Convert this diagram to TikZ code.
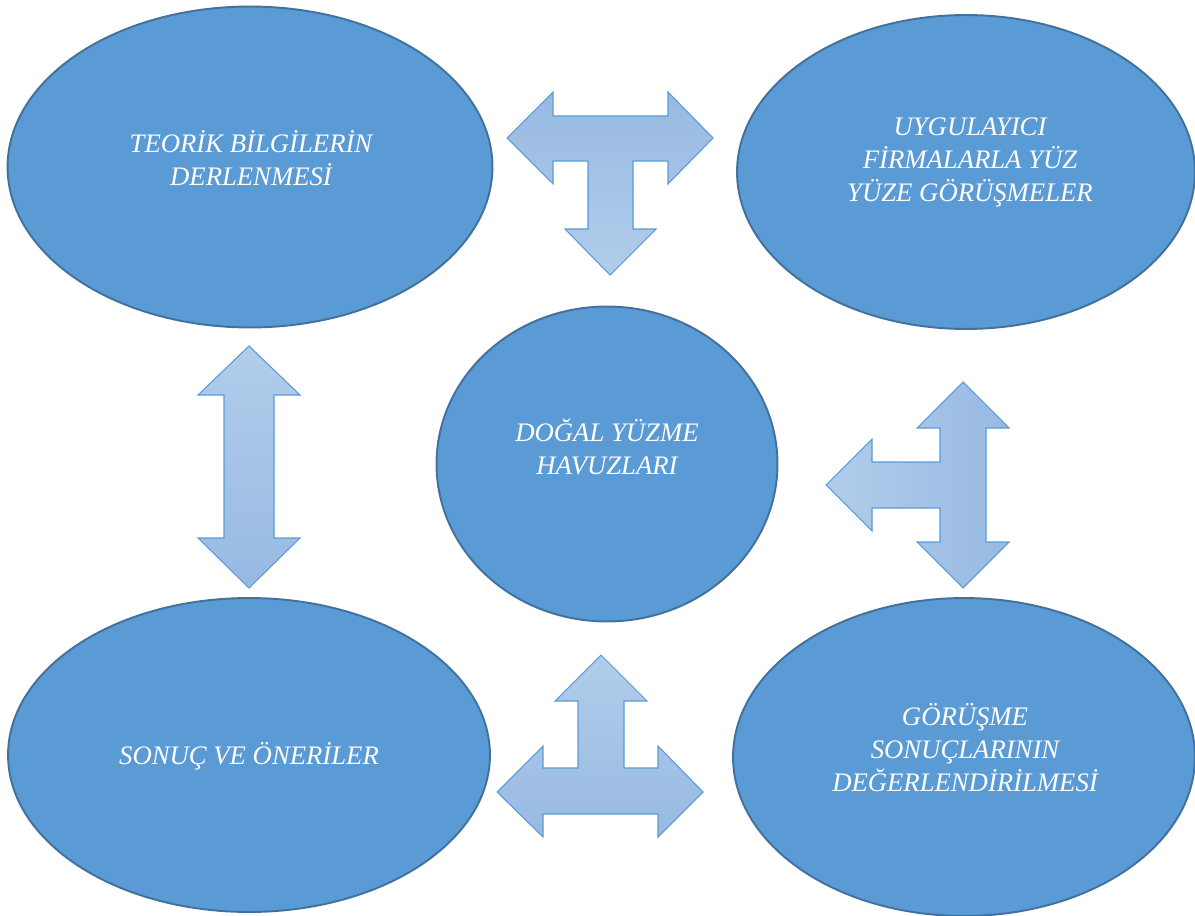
\documentclass[tikz,border=0pt]{standalone}
\usepackage{fontspec}
\setmainfont{Liberation Serif}
\usetikzlibrary{shapes.geometric}
\definecolor{bubblefill}{HTML}{5B9BD5}
\definecolor{bubbleline}{HTML}{41719C}
\definecolor{arrowlight}{HTML}{B2CDEB}
\definecolor{arrowdark}{HTML}{97B9E2}
\definecolor{arrowline}{HTML}{5B9BD5}
\tikzset{
  bubble/.style={ellipse, draw=bubbleline, line width=1.1pt, fill=bubblefill, inner sep=0pt},
  bubbletext/.style={text=white, align=center, font=\fontsize{15.2}{18.8}\selectfont\itshape},
  blockarrow/.style={draw=arrowline, line width=0.6pt, line join=miter}
}
\begin{document}
\begin{tikzpicture}[x=0.02cm,y=-0.02cm]
\useasboundingbox (0,0) rectangle (1195,915);

\node[bubble, minimum width=9.70cm, minimum height=6.42cm] (teorik) at (250,167) {};
\node[bubble, minimum width=9.16cm, minimum height=6.28cm] (uygulayici) at (966,172) {};
\node[bubble, minimum width=6.82cm, minimum height=6.30cm] (havuz) at (607,464) {};
\node[bubble, minimum width=9.64cm, minimum height=6.28cm] (sonuc) at (249,755) {};
\node[bubble, minimum width=9.24cm, minimum height=6.36cm] (gorusme) at (964,757) {};

\node[bubbletext] (teorik text) at (251,158) {TEORİK BİLGİLERİN\\DERLENMESİ};
\node[bubbletext] (uygulayici text) at (970,162) {UYGULAYICI\\FİRMALARLA YÜZ\\YÜZE GÖRÜŞMELER};
\node[bubbletext] (havuz text) at (607,447) {DOĞAL YÜZME\\HAVUZLARI};
\node[bubbletext] (sonuc text) at (249,756) {SONUÇ VE ÖNERİLER};
\node[bubbletext] (gorusme text) at (965,748) {GÖRÜŞME\\SONUÇLARININ\\DEĞERLENDİRİLMESİ};

\shade[blockarrow, top color=arrowdark, bottom color=arrowlight]
  (507,138) -- (553,92) -- (553,116) -- (668,116) -- (668,92) -- (713,138)
  -- (668,184) -- (668,161) -- (633,161) -- (633,229) -- (656,229) -- (610,275)
  -- (565,229) -- (588,229) -- (588,161) -- (553,161) -- (553,184) -- cycle;

\shade[blockarrow, left color=arrowlight, right color=arrowdark]
  (963,382) -- (1009,428) -- (986,428) -- (986,542) -- (1009,542) -- (963,588)
  -- (917,542) -- (940,542) -- (940,508) -- (872,508) -- (872,531) -- (826,485)
  -- (872,439) -- (872,462) -- (940,462) -- (940,428) -- (917,428) -- cycle;

\shade[blockarrow, top color=arrowlight, bottom color=arrowdark]
  (601,655) -- (647,701) -- (624,701) -- (624,768) -- (658,768) -- (658,746)
  -- (703,792) -- (658,837) -- (658,814) -- (543,814) -- (543,837) -- (497,792)
  -- (543,746) -- (543,768) -- (578,768) -- (578,701) -- (555,701) -- cycle;

\shade[blockarrow, top color=arrowlight, bottom color=arrowdark]
  (249,346) -- (300,395) -- (274,395) -- (274,538) -- (300,538) -- (249,588)
  -- (198,538) -- (224,538) -- (224,395) -- (198,395) -- cycle;

\end{tikzpicture}
\end{document}
